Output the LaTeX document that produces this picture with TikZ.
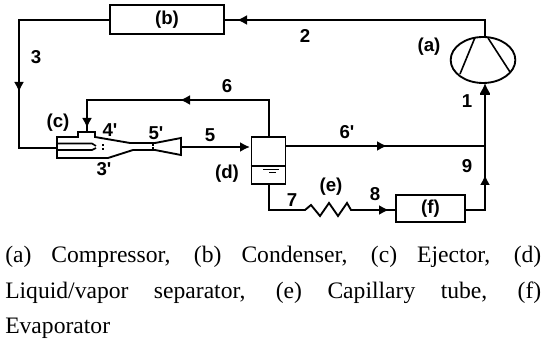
\documentclass[tikz,border=0pt]{standalone}
\usepackage{fontspec}
\setmainfont{Liberation Serif}
\newfontfamily\lblfont{Liberation Sans}[BoldFont={Liberation Sans Bold}]
\usetikzlibrary{arrows.meta,shapes.geometric}
\tikzset{
  pipe/.style={line width=1.4pt,black,line join=miter},
  flow/.style={pipe,-{Latex[length=7.5pt,width=7.5pt]}},
  thinpart/.style={line width=1.2pt,black},
  unitbox/.style={draw=black,line width=1.4pt,inner sep=0pt,font=\lblfont\bfseries\fontsize{14}{16}\selectfont},
  lbl/.style={inner sep=0pt,font=\lblfont\bfseries\fontsize{14}{16}\selectfont},
  caption/.style={inner sep=0pt,anchor=north west,text width=402pt,align=justify,font=\fontsize{17.7}{26.6}\selectfont}
}
\begin{document}
\begin{tikzpicture}[x=0.75pt,y=-0.75pt]
\useasboundingbox (0,0) rectangle (542,341);
% units
\node[unitbox,minimum width=85.5pt,minimum height=21.75pt] (b) at (167,19.5) {(b)};
\node[unitbox,minimum width=51.75pt,minimum height=20.25pt] (f) at (430.5,208.5) {(f)};
\node[draw=black,line width=1.4pt,ellipse,inner sep=0pt,minimum width=48.5pt,minimum height=34.5pt] (comp) at (483,60) {};
\node[draw=black,line width=1.4pt,inner sep=0pt,minimum width=25.5pt,minimum height=35.25pt] (d) at (268.5,160.5) {};
% compressor blades
\draw[thinpart] (475,37.5) -- (460,74);
\draw[thinpart] (488,38) -- (510,72);
% separator level
\draw[thinpart,line width=1pt] (d.west |- 0,166) -- (d.east |- 0,166);
\draw[line width=0.9pt] (263,169.5) -- (279,169.5);
\draw[line width=0.9pt] (269,172.5) -- (276,172.5);
% ejector
\coordinate (ejin) at (57,148);
\coordinate (ejtop) at (87,132);
\coordinate (ejout) at (181,147);
\draw[pipe] (57,137) -- (78,137) -- (78,132) -- (95,132) -- (95,137) -- (130,143) -- (155,143) -- (181,138) -- (181,155) -- (155,150) -- (133,150) -- (108,158) -- (57,158) -- cycle;
\draw[thinpart] (57,143.5) -- (92,143.5) -- (96,146);
\draw[thinpart] (57,150) -- (92,150) -- (96,148);
\fill (102,144) rectangle +(1.8,1.8);
\fill (102,148) rectangle +(1.8,1.8);
\fill (152,144.5) rectangle +(2,2);
\fill (152,147.5) rectangle +(2,2);
% junctions and arrow points
\coordinate (compout) at (485,37);
\coordinate (tr) at (485,20);
\coordinate (a2) at (237,20);
\coordinate (tl) at (19,20);
\coordinate (a3) at (19,92);
\coordinate (bl) at (19,148);
\coordinate (a6) at (180,100);
\coordinate (t6r) at (269,100);
\coordinate (t6l) at (87,100);
\coordinate (a4) at (87,128);
\coordinate (a5) at (250,147);
\coordinate (a6p) at (387,146);
\coordinate (j) at (485,146);
\coordinate (a1) at (485,83);
\coordinate (a9) at (485,175);
\coordinate (fr) at (485,210);
\coordinate (dbot) at (269,210);
\coordinate (zs) at (305,210);
\coordinate (ze) at (351,210);
\coordinate (a8) at (389,210);
% connectors
\draw[pipe] (compout) -- (tr) -- (b.east |- tr);
\draw[flow] (tr) -- (a2);
\draw[pipe] (b.west |- tl) -- (tl) -- (bl) -- (ejin);
\draw[flow] (tl) -- (a3);
\draw[pipe] (d.north -| t6r) -- (t6r) -- (t6l) -- (ejtop);
\draw[flow] (t6r) -- (a6);
\draw[flow] (t6l) -- (a4);
\draw[flow] (ejout) -- (a5);
\draw[pipe] (d.east |- j) -- (j);
\draw[flow] (d.east |- j) -- (a6p);
\draw[flow] (j) -- (a1);
\draw[thinpart] (480,94) -- (490,94);
\draw[pipe] (f.east |- fr) -- (fr) -- (j);
\draw[flow] (fr) -- (a9);
\draw[pipe] (d.south -| dbot) -- (dbot) -- (zs) -- (311,205) -- (320,216) -- (329,203) -- (338,216) -- (347,203) -- (ze) -- (f.west |- ze);
\draw[flow] (ze) -- (a8);
% labels
\node[lbl] (l2) at (305,36) {2};
\node[lbl] (l3) at (36,57) {3};
\node[lbl] (la) at (429,47) {(a)};
\node[lbl] (l6) at (227,86) {6};
\node[lbl] (lc) at (58,123) {(c)};
\node[lbl] (l4) at (110,130) {4'};
\node[lbl] (l5p) at (156,133) {5'};
\node[lbl] (l5) at (210,135) {5};
\node[lbl] (l3p) at (104,169) {3'};
\node[lbl] (ld) at (227,174) {(d)};
\node[lbl] (l6p) at (347,132) {6'};
\node[lbl] (l1) at (467,101) {1};
\node[lbl] (l9) at (467,166) {9};
\node[lbl] (l7) at (292,200) {7};
\node[lbl] (le) at (331,187) {(e)};
\node[lbl] (l8) at (375,194) {8};
% caption
\node[caption] (cap) at (5,246) {(a) Compressor, (b) Condenser, (c) Ejector, (d)\linebreak Liquid/vapor separator, (e) Capillary tube, (f)\linebreak Evaporator};
\end{tikzpicture}
\end{document}
